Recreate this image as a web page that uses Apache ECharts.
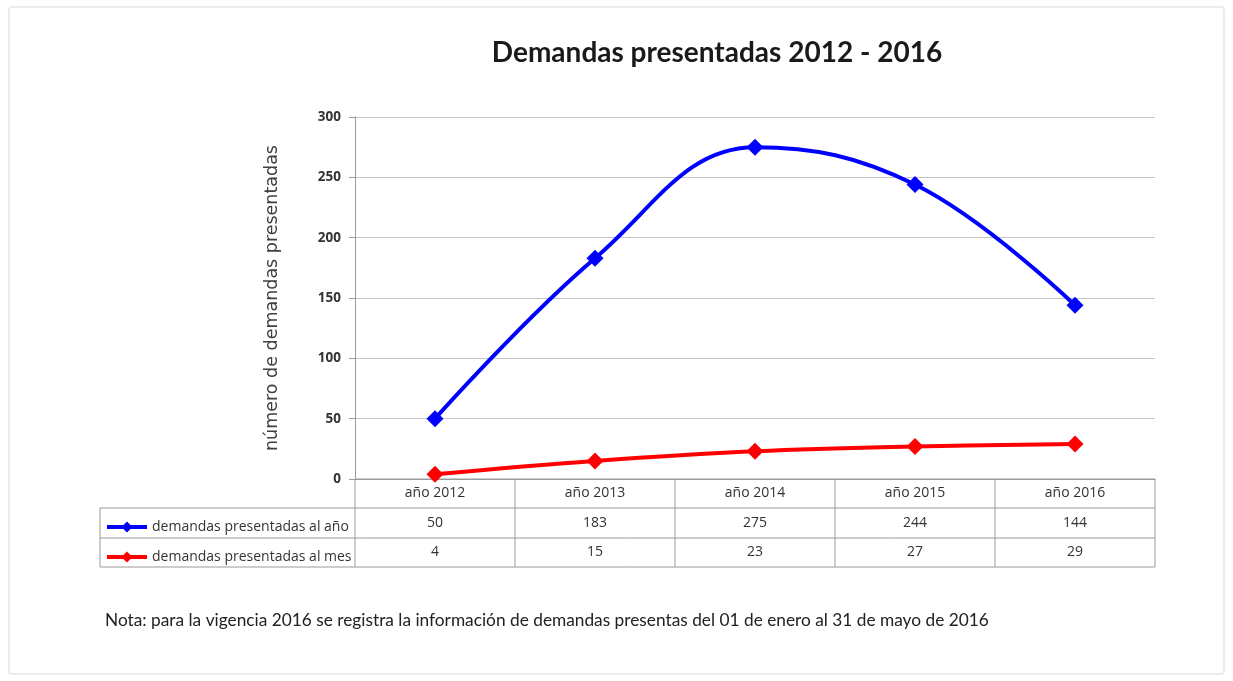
<!DOCTYPE html>
<html>
<head>
<meta charset="utf-8">
<script src="https://cdn.jsdelivr.net/npm/echarts@6/dist/echarts.min.js"></script>
<style>
html, body { margin: 0; padding: 0; background: #fff; }
#main { width: 1233px; height: 681px; }
</style>
</head>
<body>
<div id="main"></div>
<script>
// datos del grafico
var years = ['año 2012', 'año 2013', 'año 2014', 'año 2015', 'año 2016'];
var porAnio = [50, 183, 275, 244, 144];
var porMes = [4, 15, 23, 27, 29];
var seriesNames = ['demandas presentadas al año', 'demandas presentadas al mes'];
var yTicks = [0, 50, 100, 150, 200, 250, 300];

// posiciones de la tabla (layout)
var gLeft = 355, gRight = 1155, gTop = 117, gBottom = 479;
var rowY = [479, 508, 538, 567];
var tLeft = 100;
var lineColor = '#9a9a9a';

var myChart = echarts.init(document.getElementById('main'));

var option = {
	animation : false,
	backgroundColor : '#fff',
	title : {
		text : 'Demandas presentadas 2012 - 2016',
		left : 712,
		top : 34,
		textAlign : 'center',
		textStyle : {
			fontFamily : 'Lato',
			fontWeight : 'bold',
			fontSize : 28,
			color : '#1a1a1a'
		}
	},
	legend : {
		orient : 'vertical',
		left : 100,
		top : 515,
		itemWidth : 40,
		itemHeight : 14,
		itemGap : 16,
		lineStyle : { width : 4 },
		textStyle : {
			fontFamily : 'Open Sans',
			fontSize : 14,
			color : '#333'
		},
		data : seriesNames
	},
	grid : {
		left : gLeft,
		right : 1233 - gRight,
		top : gTop,
		bottom : 681 - gBottom
	},
	xAxis : {
		type : 'category',
		data : years,
		boundaryGap : true,
		axisLine : { show : true, lineStyle : { color : lineColor } },
		axisTick : { show : false },
		axisLabel : {
			margin : 7,
			fontFamily : 'Open Sans',
			fontSize : 14,
			color : '#333'
		}
	},
	yAxis : {
		type : 'value',
		min : yTicks[0],
		max : yTicks[yTicks.length - 1],
		interval : 50,
		name : 'número de demandas presentadas',
		nameLocation : 'middle',
		nameGap : 74,
		nameTextStyle : {
			fontFamily : 'DejaVu Sans',
			fontSize : 17.5,
			color : '#404040'
		},
		axisLine : { show : true, lineStyle : { color : lineColor } },
		axisTick : { show : true, length : 6, lineStyle : { color : lineColor } },
		axisLabel : {
			margin : 14,
			fontFamily : 'Open Sans',
			fontWeight : 'bold',
			fontSize : 13.5,
			color : '#333'
		},
		splitLine : { lineStyle : { color : '#c4c4c4' } }
	},
	series : [ {
		name : seriesNames[0],
		type : 'line',
		data : porAnio,
		smooth : 0.4,
		symbol : 'diamond',
		symbolSize : 17,
		itemStyle : { color : '#0000ff' },
		lineStyle : { width : 4, color : '#0000ff' }
	}, {
		name : seriesNames[1],
		type : 'line',
		data : porMes,
		smooth : 0.4,
		symbol : 'diamond',
		symbolSize : 17,
		itemStyle : { color : '#ff0000' },
		lineStyle : { width : 4, color : '#ff0000' }
	} ]
};

myChart.setOption(option);

// tabla de datos debajo del grafico
var g = [];
// marco exterior suave
g.push({
	type : 'rect',
	shape : { x : 9, y : 7, width : 1215, height : 667, r : 3 },
	style : { fill : 'none', stroke : '#ececec', lineWidth : 2 },
	silent : true
});
// lineas horizontales
g.push({ type : 'line', shape : { x1 : gLeft, y1 : rowY[0], x2 : gRight, y2 : rowY[0] }, style : { stroke : lineColor } });
for (var r = 1; r < rowY.length; r++) {
	g.push({ type : 'line', shape : { x1 : tLeft, y1 : rowY[r], x2 : gRight, y2 : rowY[r] }, style : { stroke : lineColor } });
}
// lineas verticales
g.push({ type : 'line', shape : { x1 : tLeft, y1 : rowY[1], x2 : tLeft, y2 : rowY[3] }, style : { stroke : lineColor } });
var colW = (gRight - gLeft) / years.length;
for (var c = 0; c <= years.length; c++) {
	var xx = gLeft + c * colW;
	g.push({ type : 'line', shape : { x1 : xx, y1 : rowY[0], x2 : xx, y2 : rowY[3] }, style : { stroke : lineColor } });
}
// valores
var rows = [porAnio, porMes];
for (var k = 0; k < rows.length; k++) {
	for (var i = 0; i < rows[k].length; i++) {
		var px = myChart.convertToPixel({ xAxisIndex : 0 }, i);
		g.push({
			type : 'text',
			x : px,
			y : (rowY[k + 1] + rowY[k + 2]) / 2,
			style : {
				text : String(rows[k][i]),
				fontFamily : 'Open Sans',
				fontSize : 14,
				fill : '#333',
				align : 'center',
				verticalAlign : 'middle'
			}
		});
	}
}
// nota al pie
g.push({
	type : 'text',
	x : 105,
	y : 620,
	style : {
		text : 'Nota: para la vigencia 2016 se registra la información de demandas presentas del 01 de enero al 31 de mayo de 2016',
		fontFamily : 'Lato',
		fontSize : 17.3,
		fill : '#222',
		verticalAlign : 'middle'
	}
});

myChart.setOption({ graphic : g });
</script>
</body>
</html>
